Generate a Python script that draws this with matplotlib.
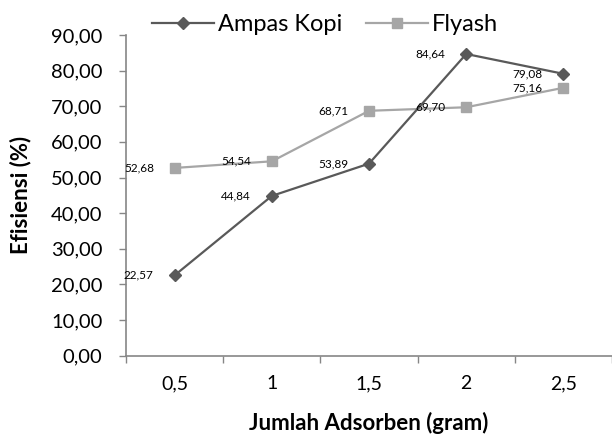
import matplotlib
matplotlib.use("Agg")
import matplotlib.pyplot as plt
from matplotlib.ticker import FuncFormatter

# data
adsorben = ['0,5', '1', '1,5', '2', '2,5']
ampas_kopi = [22.57, 44.84, 53.89, 84.64, 79.08]
flyash = [52.68, 54.54, 68.71, 69.70, 75.16]

plt.rcParams['font.family'] = ['Lato', 'DejaVu Sans']

fig = plt.figure(figsize=(6.12, 4.36), dpi=100)
ax = fig.add_axes([0.206, 0.184, 0.794, 0.736])

x = list(range(len(adsorben)))

ax.plot(x, ampas_kopi, color='#595959', linewidth=1.6, marker='D',
        markersize=6.5, label='Ampas Kopi', zorder=3)
ax.plot(x, flyash, color='#a6a6a6', linewidth=1.6, marker='s',
        markersize=7, label='Flyash', zorder=2)

# value labels, left of each point
for xs, ys in [(x, ampas_kopi), (x, flyash)]:
    for xi, yi in zip(xs, ys):
        txt = ('%.2f' % yi).replace('.', ',')
        ax.annotate(txt, (xi, yi), xytext=(-15, 0), textcoords='offset points',
                    ha='right', va='center', fontsize=8.5, color='#000000')

ax.set_xlim(-0.5, 4.47)
ax.set_ylim(0, 90)
ax.set_yticks(range(0, 91, 10))
ax.yaxis.set_major_formatter(FuncFormatter(lambda v, p: ('%.2f' % v).replace('.', ',')))

ax.set_xticks(x)
ax.set_xticklabels(adsorben)
ax.set_xticks([i - 0.5 for i in range(len(adsorben) + 1)], minor=True)
ax.tick_params(axis='x', which='major', length=0, pad=14, labelsize=14)
ax.tick_params(axis='x', which='minor', length=5, color='#868686', width=1)
ax.tick_params(axis='y', length=5, color='#868686', width=1, labelsize=14.5, pad=12)

for s in ['top', 'right']:
    ax.spines[s].set_visible(False)
for s in ['left', 'bottom']:
    ax.spines[s].set_color('#868686')
    ax.spines[s].set_linewidth(1.2)

ax.set_xlabel('Jumlah Adsorben (gram)', fontsize=16, fontweight='bold', labelpad=14)
ax.set_ylabel('Efisiensi (%)', fontsize=16, fontweight='bold', labelpad=14)

ax.legend(loc='lower center', bbox_to_anchor=(0.41, 0.97), ncol=2, frameon=False,
          fontsize=17, handlelength=2.6, columnspacing=1.0, handletextpad=0.2,
          borderaxespad=0)

fig.savefig('out.png', dpi=100)
